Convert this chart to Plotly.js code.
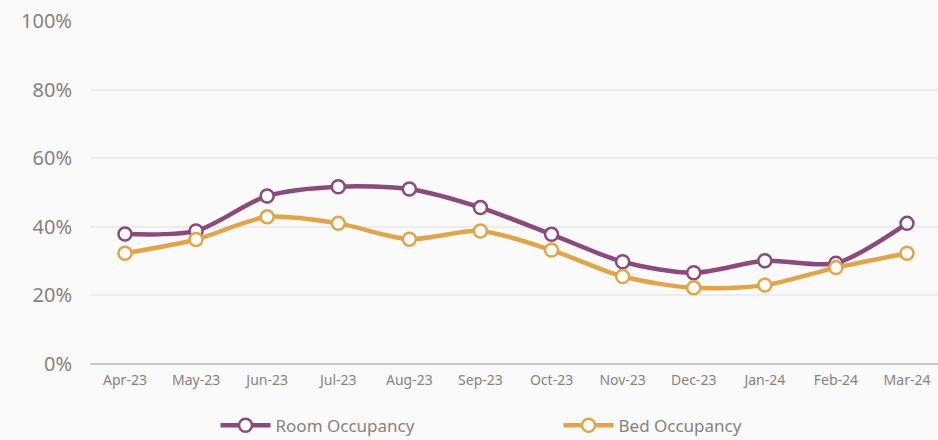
<!DOCTYPE html>
<html>
<head>
<meta charset="utf-8">
<script src="https://cdn.plot.ly/plotly-3.0.1.min.js"></script>
<style>html,body{margin:0;padding:0;background:#fafafa;}#chart{width:938px;height:440px;}</style>
</head>
<body>
<div id="chart"></div>
<script>
const months = ["Apr-23","May-23","Jun-23","Jul-23","Aug-23","Sep-23","Oct-23","Nov-23","Dec-23","Jan-24","Feb-24","Mar-24"];
const roomOccupancy = [37.9, 38.8, 49.0, 51.7, 51.0, 45.6, 37.8, 29.8, 26.6, 30.1, 29.4, 41.0];
const bedOccupancy = [32.3, 36.3, 42.9, 41.0, 36.4, 38.8, 33.2, 25.5, 22.2, 23.0, 28.1, 32.3];
const yTicks = [0, 20, 40, 60, 80, 100];

const purple = "#8a4a7c";
const gold = "#e0a548";
const textCol = "#8a817a";
const font = "Noto Sans, sans-serif";

function series(name, y, color) {
  return {
    type: "scatter", mode: "lines+markers", name: name,
    x: months, y: y,
    line: {color: color, width: 4.5, shape: "spline", smoothing: 0.8},
    marker: {size: 13, color: "#ffffff", line: {color: color, width: 2.5}},
    hoverinfo: "x+y"
  };
}

Plotly.newPlot("chart", [
  series("Room Occupancy", roomOccupancy, purple),
  series("Bed Occupancy", bedOccupancy, gold)
], {
  width: 938, height: 440,
  paper_bgcolor: "#fafafa", plot_bgcolor: "#fafafa",
  margin: {l: 90, r: 0, t: 21, b: 76, autoexpand: false},
  font: {family: font, color: textCol},
  xaxis: {
    type: "category", range: [-0.492, 11.436],
    showgrid: false, zeroline: false,
    showline: false,
    tickfont: {size: 14, color: textCol, family: font},
    ticks: "", ticklabelstandoff: 6
  },
  yaxis: {
    range: [0, 100], tickvals: yTicks, ticktext: yTicks.map(v => v + "%"),
    showgrid: true, gridcolor: "#ececec", gridwidth: 2,
    zeroline: true, zerolinecolor: "#cdc8c4", zerolinewidth: 2,
    tickfont: {size: 20, color: textCol, family: font},
    ticks: "", ticklabelstandoff: 17, fixedrange: true
  },
  showlegend: true,
  legend: {
    orientation: "h", x: 0.148, xanchor: "left", y: -0.18, yanchor: "middle",
    font: {size: 17, color: textCol, family: font},
    itemwidth: 50, entrywidth: 278, bgcolor: "rgba(0,0,0,0)"
  }
}, {displayModeBar: false});
</script>
</body>
</html>
